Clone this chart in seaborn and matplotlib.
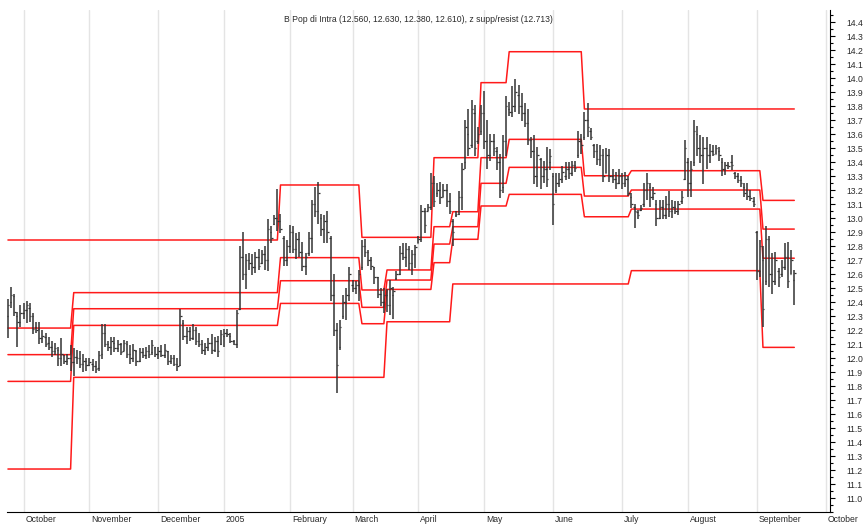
"""
OHLC chart of B Pop di Intra with the z support/resistance bands.
"""

import numpy as np
import pandas as pd
import matplotlib
matplotlib.use("Agg")
import matplotlib.pyplot as plt
from matplotlib.ticker import FixedLocator, MultipleLocator, FormatStrFormatter, NullFormatter
import matplotlib.transforms as mtransforms
import seaborn as sns

title = "B Pop di Intra (12.560, 12.630, 12.380, 12.610), z supp/resist (12.713)"

# trading calendar (exchange closed on these weekdays)
closed_days = ["2004-12-24", "2004-12-31", "2005-03-25", "2005-03-28", "2005-08-15"]
first_day = "2004-09-24"
axis_end = "2005-10-07"

# daily bars, Sep 24 2004 .. Sep 19 2005 (one row of comments per month)
opens = [
    12.30, 12.40, 12.44, 12.30, 12.26,  # Sep
    12.32, 12.34, 12.36, 12.30, 12.22, 12.21, 12.14, 12.15, 12.11, 12.08, 12.05, 12.06, 12.00, 12.02, 11.98, 12.00, 11.97, 12.01, 12.00, 11.96, 11.98,  # Oct
    11.95, 11.96, 11.94, 11.93, 12.03, 12.18, 12.10, 12.08, 12.11, 12.07, 12.10, 12.05, 12.10, 12.03, 12.00, 12.05, 11.98, 12.04, 12.02, 12.05, 12.04, 12.08,  # Nov
    12.03, 12.05, 12.02, 12.05, 11.98, 12.00, 11.96, 11.95, 12.25, 12.16, 12.19, 12.14, 12.20, 12.12, 12.10, 12.06, 12.08, 12.11, 12.06, 12.12, 12.10,  # Dec
    12.16, 12.18, 12.16, 12.12, 12.10, 12.35, 12.72, 12.60, 12.70, 12.68, 12.65, 12.72, 12.68, 12.74, 12.70, 12.90, 12.96, 13.00, 12.98, 12.86, 12.70,  # Jan
    12.80, 12.90, 12.78, 12.85, 12.76, 12.66, 12.75, 12.86, 13.10, 13.05, 13.00, 12.92, 12.98, 12.86, 12.45, 12.20, 12.08, 12.30, 12.40, 12.45,  # Feb
    12.52, 12.50, 12.52, 12.65, 12.80, 12.76, 12.70, 12.65, 12.58, 12.46, 12.40, 12.45, 12.38, 12.45, 12.57, 12.60, 12.75, 12.72, 12.78, 12.68, 12.74,  # Mar
    12.82, 12.85, 13.05, 13.05, 13.08, 13.25, 13.18, 13.20, 13.15, 13.20, 13.12, 12.98, 13.02, 13.03, 13.15, 13.40, 13.60, 13.52, 13.75, 13.55, 13.62,  # Apr
    13.75, 13.55, 13.45, 13.55, 13.48, 13.40, 13.22, 13.55, 13.78, 13.76, 13.80, 13.88, 13.80, 13.75, 13.68, 13.56, 13.48, 13.30, 13.42, 13.30, 13.35, 13.40,  # May
    13.30, 13.20, 13.25, 13.28, 13.30, 13.35, 13.32, 13.38, 13.45, 13.55, 13.58, 13.70, 13.62, 13.52, 13.48, 13.42, 13.45, 13.32, 13.45, 13.30, 13.28, 13.25,  # Jun
    13.30, 13.25, 13.28, 13.15, 13.08, 13.04, 13.06, 13.10, 13.20, 13.22, 13.15, 13.10, 13.00, 13.08, 13.02, 13.10, 13.05, 13.08, 13.05, 13.12, 13.28,  # Jul
    13.40, 13.25, 13.40, 13.60, 13.50, 13.45, 13.50, 13.45, 13.48, 13.46, 13.48, 13.40, 13.35, 13.38, 13.40, 13.32, 13.30, 13.27, 13.22, 13.20, 13.16, 13.12,  # Aug
    12.90, 12.62, 12.70, 12.55, 12.85, 12.60, 12.55, 12.62, 12.60, 12.65, 12.72, 12.60, 12.56,  # Sep
]
highs = [
    12.42, 12.51, 12.46, 12.33, 12.38,
    12.39, 12.41, 12.39, 12.32, 12.26, 12.26, 12.20, 12.18, 12.15, 12.12, 12.11, 12.08, 12.14, 12.02, 12.03, 12.09, 12.07, 12.06, 12.05, 12.03, 12.00,
    12.00, 11.99, 11.98, 12.05, 12.24, 12.24, 12.12, 12.15, 12.15, 12.13, 12.11, 12.13, 12.12, 12.09, 12.10, 12.06, 12.07, 12.07, 12.08, 12.09, 12.13, 12.08,
    12.08, 12.09, 12.10, 12.05, 12.02, 12.02, 12.00, 12.35, 12.27, 12.22, 12.22, 12.24, 12.22, 12.18, 12.13, 12.11, 12.14, 12.17, 12.15, 12.16, 12.20,
    12.21, 12.21, 12.18, 12.13, 12.34, 12.80, 12.90, 12.74, 12.75, 12.74, 12.76, 12.78, 12.77, 12.80, 12.99, 12.94, 13.02, 13.21, 13.03, 12.87, 12.84,
    12.95, 12.94, 12.89, 12.90, 12.83, 12.75, 12.90, 13.13, 13.22, 13.26, 13.03, 13.02, 13.05, 12.87, 12.60, 12.25, 12.27, 12.45, 12.50, 12.65,
    12.56, 12.55, 12.63, 12.84, 12.85, 12.77, 12.72, 12.65, 12.58, 12.50, 12.50, 12.49, 12.56, 12.51, 12.62, 12.80, 12.82, 12.82, 12.80, 12.77, 12.81,
    12.87, 13.09, 13.07, 13.10, 13.32, 13.30, 13.25, 13.26, 13.24, 13.24, 13.18, 12.99, 13.05, 13.19, 13.39, 13.70, 13.78, 13.84, 13.81, 13.65, 13.81,
    13.91, 13.70, 13.60, 13.60, 13.51, 13.46, 13.59, 13.87, 13.83, 13.94, 13.99, 13.95, 13.89, 13.82, 13.78, 13.58, 13.59, 13.51, 13.43, 13.41, 13.51, 13.49,
    13.32, 13.32, 13.32, 13.37, 13.40, 13.40, 13.41, 13.41, 13.62, 13.60, 13.76, 13.82, 13.64, 13.53, 13.53, 13.52, 13.49, 13.50, 13.49, 13.35, 13.33, 13.35,
    13.32, 13.33, 13.30, 13.18, 13.10, 13.06, 13.09, 13.25, 13.32, 13.25, 13.22, 13.13, 13.13, 13.13, 13.16, 13.19, 13.13, 13.12, 13.12, 13.19, 13.56,
    13.43, 13.41, 13.70, 13.66, 13.59, 13.58, 13.58, 13.53, 13.52, 13.52, 13.51, 13.43, 13.40, 13.40, 13.45, 13.33, 13.32, 13.30, 13.25, 13.25, 13.20, 13.15,
    12.91, 12.84, 12.80, 12.94, 12.87, 12.75, 12.76, 12.64, 12.70, 12.82, 12.83, 12.77, 12.63,
]
lows = [
    12.14, 12.36, 12.30, 12.08, 12.22,
    12.28, 12.25, 12.26, 12.17, 12.18, 12.10, 12.11, 12.08, 12.06, 12.01, 12.02, 11.94, 11.94, 11.96, 11.95, 11.91, 11.87, 11.96, 11.93, 11.90, 11.91,
    11.94, 11.91, 11.89, 11.91, 11.99, 12.08, 12.05, 12.02, 12.04, 12.04, 12.02, 12.05, 12.00, 11.96, 11.97, 11.94, 11.97, 12.00, 11.99, 12.00, 12.02, 12.01,
    11.99, 12.01, 12.00, 11.95, 11.96, 11.94, 11.91, 11.94, 12.13, 12.10, 12.12, 12.13, 12.09, 12.08, 12.03, 12.02, 12.05, 12.03, 12.04, 12.01, 12.09,
    12.08, 12.15, 12.11, 12.09, 12.07, 12.34, 12.56, 12.49, 12.63, 12.59, 12.61, 12.63, 12.67, 12.63, 12.62, 12.82, 12.95, 12.91, 12.89, 12.66, 12.66,
    12.75, 12.75, 12.71, 12.72, 12.62, 12.59, 12.73, 12.75, 13.01, 12.96, 12.87, 12.82, 12.82, 12.41, 12.16, 11.75, 12.06, 12.28, 12.27, 12.41,
    12.47, 12.46, 12.41, 12.63, 12.72, 12.66, 12.63, 12.53, 12.43, 12.37, 12.32, 12.33, 12.31, 12.28, 12.56, 12.59, 12.70, 12.65, 12.63, 12.59, 12.64,
    12.82, 12.83, 12.89, 13.05, 13.06, 13.08, 13.15, 13.10, 13.15, 13.08, 13.03, 12.80, 13.01, 13.02, 13.06, 13.35, 13.44, 13.50, 13.44, 13.53, 13.59,
    13.49, 13.35, 13.41, 13.44, 13.34, 13.14, 13.18, 13.44, 13.73, 13.72, 13.76, 13.74, 13.69, 13.65, 13.52, 13.43, 13.24, 13.22, 13.21, 13.25, 13.22, 13.34,
    12.95, 13.18, 13.22, 13.25, 13.27, 13.28, 13.30, 13.33, 13.43, 13.46, 13.56, 13.58, 13.56, 13.43, 13.38, 13.37, 13.26, 13.32, 13.26, 13.25, 13.21, 13.24,
    13.21, 13.22, 13.16, 13.07, 12.93, 12.99, 13.05, 13.08, 13.13, 13.08, 13.13, 12.94, 12.99, 12.99, 12.99, 13.01, 13.00, 13.03, 13.02, 13.10, 13.27,
    13.15, 13.15, 13.37, 13.44, 13.39, 13.24, 13.35, 13.39, 13.44, 13.46, 13.41, 13.30, 13.31, 13.35, 13.34, 13.28, 13.25, 13.22, 13.15, 13.13, 13.12, 13.08,
    12.56, 12.58, 12.22, 12.52, 12.51, 12.46, 12.52, 12.51, 12.58, 12.63, 12.50, 12.60, 12.38,
]
closes = [
    12.38, 12.45, 12.33, 12.26, 12.32,
    12.34, 12.38, 12.30, 12.21, 12.20, 12.14, 12.16, 12.10, 12.08, 12.05, 12.07, 12.00, 12.03, 11.98, 12.00, 11.97, 12.01, 12.00, 11.96, 11.98, 11.95,
    11.97, 11.94, 11.92, 12.02, 12.18, 12.10, 12.08, 12.12, 12.07, 12.10, 12.04, 12.11, 12.03, 12.00, 12.06, 11.98, 12.04, 12.02, 12.05, 12.03, 12.09, 12.03,
    12.05, 12.02, 12.06, 11.98, 12.00, 11.96, 11.94, 12.30, 12.16, 12.19, 12.14, 12.20, 12.12, 12.10, 12.06, 12.08, 12.11, 12.06, 12.12, 12.05, 12.17,
    12.18, 12.17, 12.12, 12.10, 12.32, 12.72, 12.60, 12.70, 12.68, 12.65, 12.72, 12.66, 12.74, 12.70, 12.92, 12.86, 13.00, 12.98, 12.92, 12.70, 12.80,
    12.90, 12.78, 12.85, 12.76, 12.66, 12.72, 12.86, 13.10, 13.05, 13.18, 12.92, 12.98, 12.90, 12.45, 12.20, 11.95, 12.22, 12.40, 12.45, 12.60,
    12.50, 12.52, 12.60, 12.80, 12.76, 12.70, 12.66, 12.58, 12.46, 12.40, 12.45, 12.38, 12.50, 12.48, 12.60, 12.75, 12.72, 12.78, 12.68, 12.74, 12.79,
    12.85, 13.05, 12.95, 13.08, 13.25, 13.12, 13.20, 13.15, 13.20, 13.12, 13.05, 12.90, 13.03, 13.15, 13.35, 13.65, 13.50, 13.78, 13.50, 13.60, 13.75,
    13.55, 13.45, 13.55, 13.50, 13.40, 13.20, 13.55, 13.80, 13.76, 13.80, 13.90, 13.80, 13.75, 13.68, 13.56, 13.48, 13.30, 13.45, 13.30, 13.35, 13.28, 13.44,
    13.10, 13.25, 13.28, 13.33, 13.35, 13.32, 13.38, 13.36, 13.55, 13.52, 13.70, 13.65, 13.58, 13.48, 13.42, 13.45, 13.30, 13.45, 13.30, 13.28, 13.25, 13.30,
    13.25, 13.28, 13.18, 13.10, 13.05, 13.02, 13.07, 13.20, 13.25, 13.15, 13.18, 13.00, 13.08, 13.02, 13.10, 13.05, 13.08, 13.05, 13.10, 13.15, 13.50,
    13.25, 13.35, 13.62, 13.50, 13.45, 13.50, 13.45, 13.48, 13.46, 13.50, 13.45, 13.35, 13.38, 13.37, 13.38, 13.30, 13.27, 13.25, 13.18, 13.16, 13.14, 13.10,
    12.62, 12.80, 12.35, 12.85, 12.60, 12.55, 12.70, 12.58, 12.65, 12.72, 12.55, 12.70, 12.61,
]

# support / resistance levels, constant from each date until the next one
level_start = ["2004-09-24", "2004-10-25", "2005-01-27", "2005-03-04", "2005-03-16", "2005-04-08",
               "2005-04-18", "2005-04-29", "2005-05-12", "2005-06-15", "2005-07-06", "2005-09-05"]
resist_2 = [12.843, 12.843, 13.236, 12.862, 12.862, 13.431, 13.431, 13.967, 14.188, 13.779, 13.779, 13.779]
resist_1 = [12.214, 12.467, 12.717, 12.486, 12.629, 12.938, 13.045, 13.431, 13.562, 13.302, 13.338, 13.126]
middle = [12.024, 12.352, 12.552, 12.362, 12.557, 12.814, 12.938, 13.248, 13.362, 13.157, 13.200, 12.921]
support_1 = [11.833, 12.233, 12.390, 12.245, 12.490, 12.681, 12.848, 13.086, 13.169, 13.009, 13.064, 12.713]
support_2 = [11.207, 11.862, 11.862, 11.862, 12.259, 12.259, 12.529, 12.529, 12.529, 12.529, 12.624, 12.076]

month_names = ["January", "February", "March", "April", "May", "June", "July",
               "August", "September", "October", "November", "December"]

# --- build the trading-day axis
days = pd.bdate_range(first_day, axis_end)
days = days[~days.isin(pd.to_datetime(closed_days))]
pos = pd.Series(np.arange(len(days)), index=days)

bars = pd.DataFrame({"open": opens, "high": highs, "low": lows, "close": closes})
bars["x"] = np.arange(len(bars))
n = len(bars)

starts = [pos[pd.Timestamp(d)] for d in level_start] + [n]
seg_len = np.diff(starts)
levels = pd.DataFrame({
    "x": np.arange(n),
    "r2": np.repeat(resist_2, seg_len),
    "r1": np.repeat(resist_1, seg_len),
    "mid": np.repeat(middle, seg_len),
    "s1": np.repeat(support_1, seg_len),
    "s2": np.repeat(support_2, seg_len),
})
levels_long = levels.melt(id_vars="x", var_name="line", value_name="value")

month_first = pos.groupby([days.year, days.month]).first()
month_first = month_first[month_first > 0]  # Sep 2004 starts mid-month
iso = days.isocalendar()
week_first = pos.groupby([iso.year.values, iso.week.values]).first()

# --- plot
sns.set_style("white")
plt.rcParams["font.family"] = ["Liberation Sans", "DejaVu Sans"]
plt.rcParams["font.size"] = 6.2
text_color = "#2a2a2a"

fig = plt.figure(figsize=(8.65, 5.24), dpi=100)
ax = fig.add_axes([7 / 865, 12 / 524, 823 / 865, 502 / 524])

sns.lineplot(data=levels_long, x="x", y="value", units="line", estimator=None,
             color="#ff1a1a", linewidth=1.1, ax=ax, legend=False, zorder=2)

bar_color = "#333333"
ax.vlines(bars["x"], bars["low"], bars["high"], color=bar_color, lw=1.1, zorder=3)
ax.hlines(bars["open"], bars["x"] - 0.45, bars["x"], color=bar_color, lw=0.9, zorder=3)
ax.hlines(bars["close"], bars["x"], bars["x"] + 0.45, color=bar_color, lw=0.9, zorder=3)

ax.set_xlim(-0.3, 262.4)
ax.set_ylim(10.9, 14.486)
ax.set_xlabel("")
ax.set_ylabel("")

# x axis: month separators with labels to their right, weekly minor ticks
ax.xaxis.set_major_locator(FixedLocator(month_first.values))
ax.xaxis.set_minor_locator(FixedLocator(week_first.values))
ax.xaxis.set_major_formatter(NullFormatter())
ax.tick_params(axis="x", which="major", length=9, width=0.8, color="black", direction="out")
ax.tick_params(axis="x", which="minor", length=3, width=0.8, color="black", direction="out")
ax.xaxis.grid(True, which="major", color="#e4e4e4", lw=1.0)
ax.yaxis.grid(False)
ax.set_axisbelow(True)

trans = mtransforms.blended_transform_factory(ax.transData, ax.transAxes)
for (yr, mo), x in month_first.items():
    label = str(yr) if mo == 1 else month_names[mo - 1]
    ax.text(x + 0.6, -0.006, label, transform=trans, ha="left", va="top",
            fontsize=6.2, color=text_color)

# y axis on the right
ax.yaxis.tick_right()
ax.yaxis.set_major_locator(FixedLocator(np.round(np.arange(11.0, 14.45, 0.1), 1)))
ax.yaxis.set_minor_locator(MultipleLocator(0.05))
ax.yaxis.set_major_formatter(FormatStrFormatter("%.1f"))
ax.tick_params(axis="y", which="major", length=3.6, width=0.8, pad=8,
               color="black", labelcolor=text_color, labelsize=6.2)
ax.tick_params(axis="y", which="minor", length=1.8, width=0.8, color="black")

for side in ["left", "top"]:
    ax.spines[side].set_visible(False)
for side in ["right", "bottom"]:
    ax.spines[side].set_visible(True)
    ax.spines[side].set_color("black")
    ax.spines[side].set_linewidth(0.8)

ax.text(0.5, 1 - 10 / 502, title, transform=ax.transAxes, ha="center", va="center",
        fontsize=6.2, color=text_color)

fig.savefig("out.png", dpi=100)
